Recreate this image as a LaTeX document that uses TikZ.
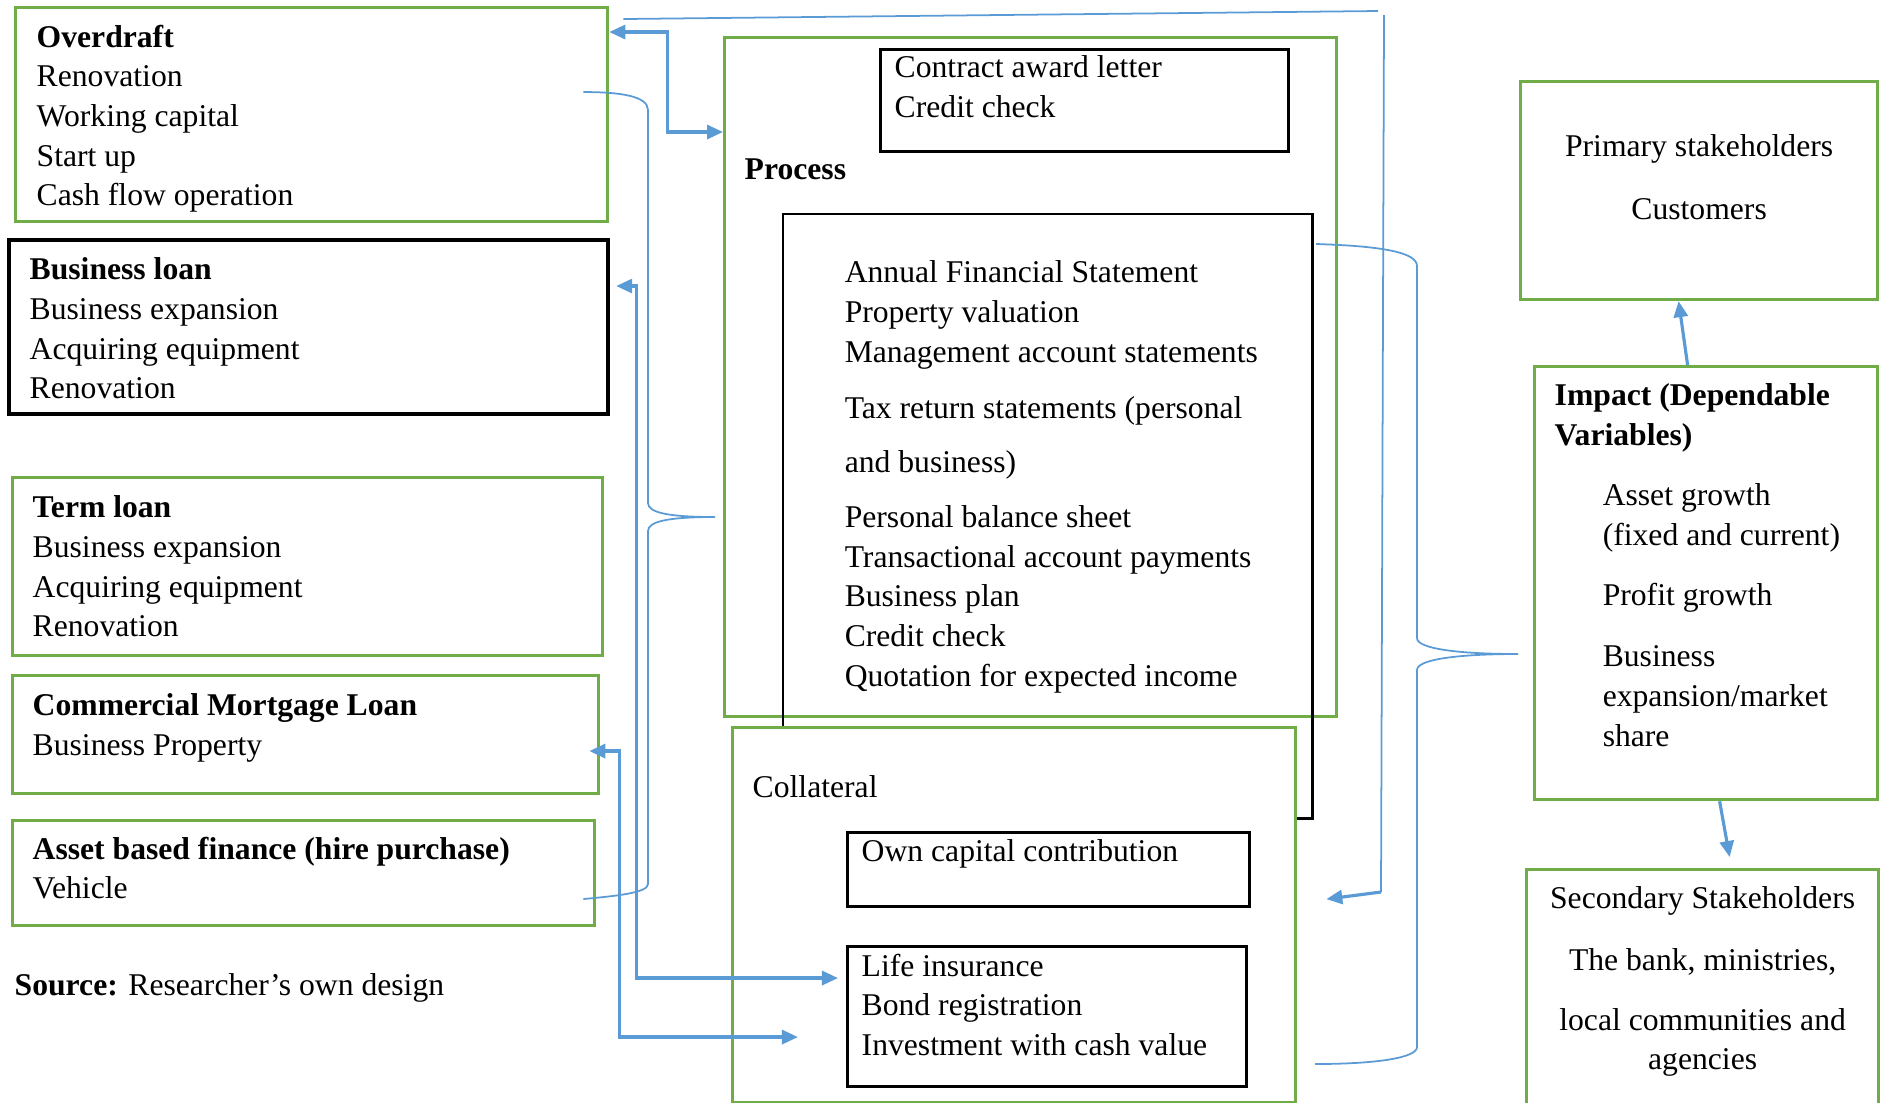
\documentclass[tikz,border=0pt]{standalone}
\usepackage{fontspec}
\setmainfont{Liberation Serif}
\usepackage{tikz}
\usetikzlibrary{arrows.meta,positioning,calc}
\definecolor{boxgreen}{RGB}{112,173,71}
\definecolor{linkblue}{RGB}{91,155,213}

\tikzset{
  greenbox/.style={rectangle, draw=boxgreen, line width=0.85pt, inner sep=0pt, anchor=north west},
  blackbox/.style={rectangle, draw=black, line width=0.8pt, inner sep=0pt, anchor=north west},
  txt/.style={inner sep=0pt, align=left, anchor=north west, font=\fontsize{9pt}{11.3pt}\selectfont},
  flow/.style={draw=linkblue, line width=0.9pt},
  link/.style={draw=linkblue, line width=0.5pt}
}

\begin{document}
\begin{tikzpicture}[x=0.01cm, y=-0.01cm, >={Triangle[length=0.16cm, width=0.14cm]}]
  \useasboundingbox (0,0) rectangle (1882,1102);
  \clip (0,0) rectangle (1882,1102);

  % Define nodes
  \node[greenbox, minimum width=5.92cm, minimum height=2.14cm] (od) at (14,6) {};
  \node[blackbox, line width=1.1pt, minimum width=5.99cm, minimum height=1.74cm] (bl) at (7,238) {};
  \node[greenbox, minimum width=5.90cm, minimum height=1.78cm] (tl) at (11,476) {};
  \node[greenbox, minimum width=5.86cm, minimum height=1.18cm] (cm) at (11,674) {};
  \node[greenbox, minimum width=5.82cm, minimum height=1.05cm] (ab) at (11,819) {};

  \node[txt, below right=0.18cm and 0.22cm of od.north west] (odtxt)
    {\textbf{Overdraft}\\Renovation\\Working capital\\Start up\\Cash flow operation};
  \node[txt, below right=0.19cm and 0.22cm of bl.north west] (bltxt)
    {\textbf{Business loan}\\Business expansion\\Acquiring equipment\\Renovation};
  \node[txt, below right=0.19cm and 0.21cm of tl.north west] (tltxt)
    {\textbf{Term loan}\\Business expansion\\Acquiring equipment\\Renovation};
  \node[txt, below right=0.19cm and 0.21cm of cm.north west] (cmtxt)
    {\textbf{Commercial Mortgage Loan}\\Business Property};
  \node[txt, below right=0.17cm and 0.21cm of ab.north west] (abtxt)
    {\textbf{Asset based finance (hire purchase)}\\Vehicle};
  \node[txt, below right=0.46cm and 0.03cm of ab.south west] (src)
    {\textbf{Source:} Researcher’s own design};

  % Process
  \node[greenbox, minimum width=6.12cm, minimum height=6.79cm] (proc) at (723,36) {};
  \node[blackbox, minimum width=4.08cm, minimum height=1.02cm] (ctr) at (879,48) {};
  \node[blackbox, line width=0.7pt, minimum width=5.29cm, minimum height=6.04cm] (pin) at (782,213) {};
  \node[txt, below right=0.07cm and 0.15cm of ctr.north west] (ctrtxt)
    {Contract award letter\\Credit check};
  \node[txt, below right=1.22cm and 0.21cm of proc.north west] (proctxt) {\textbf{Process}};
  \node[txt, below right=0.47cm and 0.62cm of pin.north west] (pintxt)
    {Annual Financial Statement\\Property valuation\\Management account statements\\[0.17cm]
     Tax return statements (personal\\[0.14cm]and business)\\[0.15cm]
     Personal balance sheet\\Transactional account payments\\Business plan\\Credit check\\
     Quotation for expected income};

  % Collateral
  \node[greenbox, fill=white, minimum width=5.63cm, minimum height=3.75cm] (coll) at (731,726) {};
  \node[blackbox, minimum width=4.02cm, minimum height=0.74cm] (own) at (846,831) {};
  \node[blackbox, minimum width=3.99cm, minimum height=1.40cm] (life) at (846,945) {};
  \node[txt, below right=0.49cm and 0.21cm of coll.north west] (colltxt) {Collateral};
  \node[txt, below right=0.08cm and 0.15cm of own.north west] (owntxt) {Own capital contribution};
  \node[txt, below right=0.08cm and 0.15cm of life.north west] (lifetxt)
    {Life insurance\\Bond registration\\Investment with cash value};

  % Impact and stakeholders
  \node[greenbox, minimum width=3.57cm, minimum height=2.18cm] (prim) at (1519,80) {};
  \node[greenbox, minimum width=3.43cm, minimum height=4.33cm] (imp) at (1533,365) {};
  \node[greenbox, minimum width=3.52cm, minimum height=2.40cm] (sec) at (1525,868) {};
  \node[txt, align=center, below=0.54cm of prim.north] (primtxt)
    {Primary stakeholders\\[0.23cm]Customers};
  \node[txt, below right=0.18cm and 0.21cm of imp.north west] (imphead)
    {\textbf{Impact (Dependable}\\\textbf{Variables)}};
  \node[txt, below right=1.18cm and 0.69cm of imp.north west] (impitems)
    {Asset growth\\(fixed and current)\\[0.2cm]Profit growth\\[0.22cm]Business\\expansion/market\\share};
  \node[txt, align=center, below=0.18cm of sec.north] (sectxt)
    {Secondary Stakeholders\\[0.22cm]The bank, ministries,\\[0.2cm]local communities and\\agencies};

  % Braces
  \coordinate (lbtip) at (715,517);
  \coordinate (rbtip) at (1518,654);
  \draw[link] ([shift={(-0.26cm,-0.86cm)}]od.north east)
    .. controls (620,92) and (648,96) .. (648,110) -- (648,503)
    .. controls (648,513) and (670,517) .. (lbtip)
    .. controls (670,517) and (648,521) .. (648,531) -- (648,884)
    .. controls (648,893) and (615,896) .. ([shift={(-0.13cm,0.28cm)}]ab.south east);
  \draw[link] (1316,244)
    .. controls (1380,246) and (1417,252) .. (1417,266) -- (1417,638)
    .. controls (1417,649) and (1460,654) .. (rbtip)
    .. controls (1460,654) and (1417,659) .. (1417,670) -- (1417,1047)
    .. controls (1417,1058) and (1375,1064) .. (1315,1064);

  % Overdraft --> Collateral
  \coordinate (ret1) at (1378,11);
  \coordinate (ret2) at (1384,15);
  \coordinate (ret3) at (1381,892);
  \draw[link] ([shift={(0.14cm,-0.13cm)}]od.north east) -- (ret1);
  \draw[link] (ret2) -- (ret3);
  \draw[flow, ->] (ret3) -- ([shift={(0.29cm,-1.73cm)}]coll.north east);

  % Loans <--> Process / Collateral
  \draw[flow, <->] ([yshift=-0.26cm]od.north east) -- ++(0.58cm,0) |- (proc.west |- 0,132);
  \draw[flow, <->] ([shift={(0.06cm,-0.48cm)}]bl.north east) -- ++(0.20cm,0)
    |- ([shift={(-0.08cm,-0.33cm)}]life.north west);
  \draw[flow, <->] ([shift={(-0.11cm,-0.77cm)}]cm.north east) -- ++(0.30cm,0)
    |- ([shift={(-0.48cm,-0.92cm)}]life.north west);

  % Impact --> stakeholders
  \draw[flow, ->] ([xshift=-0.185cm]imp.north) -- ([xshift=-0.205cm]prim.south);
  \draw[flow, ->] ([xshift=0.135cm]imp.south) -- ([shift={(0.27cm,0.11cm)}]sec.north);

\end{tikzpicture}
\end{document}
